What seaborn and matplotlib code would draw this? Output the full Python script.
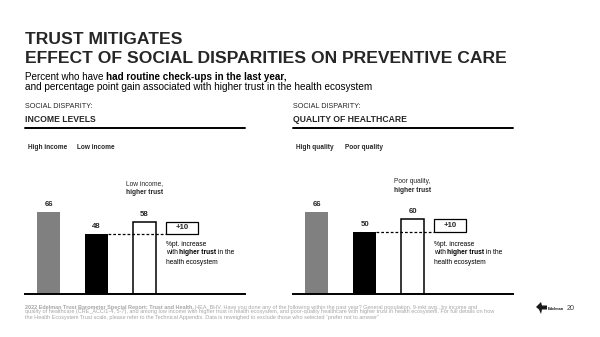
import matplotlib
matplotlib.use("Agg")
import matplotlib.pyplot as plt
from matplotlib.patches import Rectangle, Polygon
import seaborn as sns
import pandas as pd

sns.set_theme(style="white")
plt.rcParams["font.family"] = ["Liberation Sans", "DejaVu Sans"]

# ---- data -------------------------------------------------------------
income_groups = ["High income", "Low income", "Low income,\nhigher trust"]
income_values = [66, 48, 58]
income_gain = 10

quality_groups = ["High quality", "Poor quality", "Poor quality,\nhigher trust"]
quality_values = [66, 50, 60]
quality_gain = 10

panel_kicker = "SOCIAL DISPARITY:"
panel_titles = ["INCOME LEVELS", "QUALITY OF HEALTHCARE"]
bar_colors = ["#808080", "#000000", "#ffffff"]

W, H = 600, 337
fig = plt.figure(figsize=(W / 100, H / 100), dpi=100)
fig.patch.set_facecolor("white")
renderer = fig.canvas.get_renderer()


def fx(px):
    return px / W


def fy(py):
    return 1 - py / H


def advance(txt, size, weight):
    """Horizontal advance of a string in pixels, trailing spaces included."""
    def w(s):
        t = fig.text(0, 0, s, fontsize=size, fontweight=weight)
        width = t.get_window_extent(renderer=renderer).width
        t.remove()
        return width
    return w(txt + "|") - w("|")


def rich_text(x_px, y_px, parts, size, color="black"):
    """Draw a run of text pieces with different weights on one baseline."""
    x = x_px
    for txt, weight in parts:
        fig.text(fx(x), fy(y_px), txt, fontsize=size, fontweight=weight,
                 color=color, va="baseline", ha="left")
        x += advance(txt, size, weight)
    return x


# ---- header -----------------------------------------------------------
fig.text(fx(25), fy(44), "TRUST MITIGATES", fontsize=12.6, fontweight="bold",
         va="baseline")
fig.text(fx(25), fy(63), "EFFECT OF SOCIAL DISPARITIES ON PREVENTIVE CARE",
         fontsize=12.6, fontweight="bold", va="baseline")
rich_text(25, 80, [("Percent who have ", "normal"),
                   ("had routine check-ups in the last year,", "bold")], 7.1)
rich_text(25, 90, [("and percentage point gain associated with higher trust "
                    "in the health ecosystem", "normal")], 7.2)

# ---- panels -----------------------------------------------------------
panels = [
    (25, income_groups, income_values, income_gain),
    (293, quality_groups, quality_values, quality_gain),
]

for (left_px, groups, values, gain), title in zip(panels, panel_titles):
    fig.text(fx(left_px), fy(108), panel_kicker, fontsize=5.2, va="baseline")
    fig.text(fx(left_px), fy(122), title, fontsize=6.2, fontweight="bold",
             va="baseline")
    fig.add_artist(plt.Line2D([fx(left_px), fx(left_px + 220)], [fy(128), fy(128)],
                              color="black", lw=1.4))

    # legend labels for the two base groups
    fig.text(fx(left_px + 3), fy(149), groups[0], fontsize=4.7,
             fontweight="bold", va="baseline")
    fig.text(fx(left_px + 52), fy(149), groups[1], fontsize=4.7,
             fontweight="bold", va="baseline")

    # axes: 1.25 px per percentage point, baseline at y=294
    ax_h = 125
    ax = fig.add_axes([fx(left_px), fy(294), fx(220), ax_h / H])
    df = pd.DataFrame({"group": groups, "value": values})
    sns.barplot(data=df, x="group", y="value", hue="group", palette=bar_colors,
                width=0.48, ax=ax, legend=False, order=groups)
    for patch, c in zip(ax.patches, bar_colors):
        if c == "#ffffff":
            patch.set_edgecolor("black")
            patch.set_linewidth(1.1)
        else:
            patch.set_linewidth(0)
    ax.set_xlim(-0.49, 4.09)
    ax.set_ylim(0, 100)
    ax.set_xticks([])
    ax.set_yticks([])
    ax.set_xlabel("")
    ax.set_ylabel("")
    for side in ("top", "right", "left"):
        ax.spines[side].set_visible(False)
    ax.spines["bottom"].set_color("black")
    ax.spines["bottom"].set_linewidth(1.4)
    ax.set_facecolor("none")

    # value labels
    for i, v in enumerate(values):
        ax.text(i, v + 5.8, f"{v}", ha="center", va="center", fontsize=5.6,
                fontweight="bold")

    # caption above the third bar
    first, second = groups[2].split("\n")
    ax.text(2, values[2] + 30.0, first, ha="center", va="center", fontsize=4.8)
    ax.text(2, values[2] + 23.2, second, ha="center", va="center", fontsize=4.8,
            fontweight="bold")

    # dashed reference from the base bar to the gain box
    box_x0, box_x1 = 2.44, 3.12
    ax.plot([1 + 0.24, box_x0], [values[1], values[1]], ls=(0, (2.2, 1.6)),
            color="black", lw=0.9, zorder=5)
    ax.add_patch(Rectangle((box_x0, values[1]), box_x1 - box_x0, gain,
                           facecolor="white", edgecolor="black", lw=0.9, zorder=6))
    ax.text((box_x0 + box_x1) / 2, values[1] + gain / 2, f"+{gain}",
            ha="center", va="center", fontsize=5.6, fontweight="bold", zorder=7)

    # explanatory note beside the box
    bx = left_px + 23.5 + box_x0 * 48
    rich_text(bx, 245.5, [("%pt. increase", "normal")], 4.8)
    rich_text(bx, 254.5, [("with ", "normal"), ("higher trust", "bold"),
                          (" in the", "normal")], 4.8)
    rich_text(bx, 263.5, [("health ecosystem", "normal")], 4.8)

# ---- footnote ---------------------------------------------------------
foot_color = "#a6a6a6"
fs = 4.0
rich_text(25, 308.5, [("2022 Edelman Trust Barometer Special Report: Trust and Health. ", "bold"),
                      ("HEA_BHV. Have you done any of the following within the past year? "
                       "General population, 9-mkt avg., by income and", "normal")],
          fs, color=foot_color)
rich_text(25, 313.5, [("quality of healthcare (CRE_ACC/1-4, 5-7), and among low income with "
                       "higher trust in health ecosystem, and poor-quality healthcare with higher "
                       "trust in health ecosystem. For full details on how", "normal")],
          fs, color=foot_color)
rich_text(25, 318.5, [("the Health Ecosystem Trust scale, please refer to the Technical Appendix. "
                       "Data is reweighed to exclude those who selected \u201cprefer not to answer\u201d",
                       "normal")], fs, color=foot_color)

# brand mark and page number
logo = [(536, 307), (541, 302), (542, 305.5), (547, 305.5), (547, 309.5),
        (542, 309.5), (541, 314), (539, 309.5)]
fig.add_artist(Polygon([(fx(a), fy(b)) for a, b in logo], closed=True,
                       facecolor="#1a1a1a", edgecolor="none"))
fig.text(fx(548), fy(308.5), "Edelman", fontsize=2.8, fontweight="bold",
         color="#1a1a1a", va="center")
fig.text(fx(567), fy(308.5), "20", fontsize=5.2, color="#404040", va="center")

fig.savefig("out.png", dpi=100, facecolor="white")
